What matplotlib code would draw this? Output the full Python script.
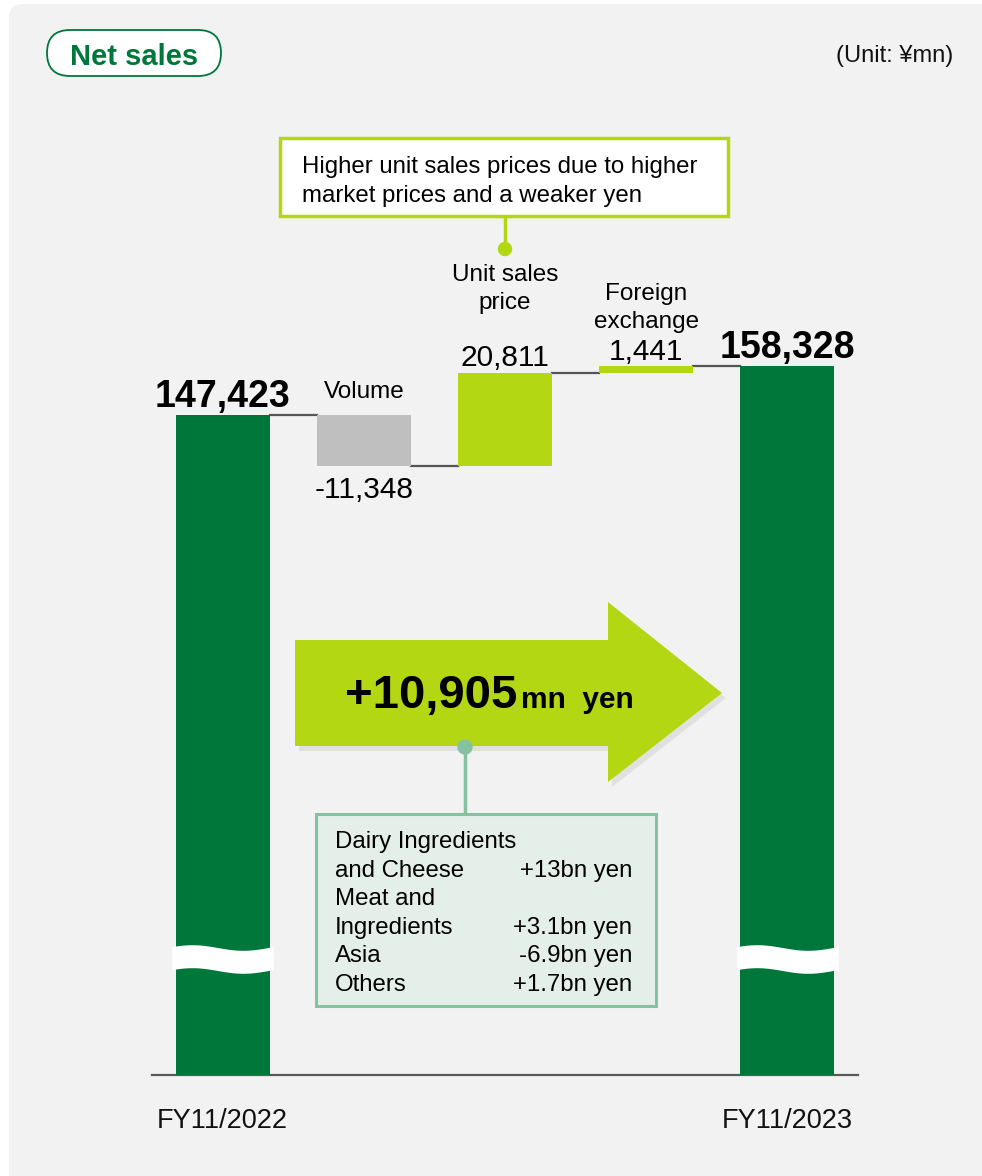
import numpy as np
import matplotlib
matplotlib.use("Agg")
import matplotlib.pyplot as plt
import matplotlib.transforms as mtransforms
from matplotlib.patches import FancyBboxPatch, Polygon, Circle, Rectangle
from matplotlib.lines import Line2D

plt.rcParams['font.family'] = ['Liberation Sans', 'DejaVu Sans']

# waterfall data (unit: ¥mn)
start_value = 147423
end_value = 158328
step_labels = ["Volume", "Unit sales\nprice", "Foreign\nexchange"]
step_values = [-11348, 20811, 1441]
period_labels = ["FY11/2022", "FY11/2023"]
total_change = "+10,905"

breakdown_names = ["Dairy Ingredients", "and Cheese", "Meat and", "Ingredients", "Asia", "Others"]
breakdown_values = ["", "+13bn yen", "", "+3.1bn yen", "-6.9bn yen", "+1.7bn yen"]
price_note = ["Higher unit sales prices due to higher", "market prices and a weaker yen"]

DARK_GREEN = "#00773a"
LIGHT_GREEN = "#b3d813"
GREY_BAR = "#bfbfbf"
PANEL = "#f2f2f2"
MINT_EDGE = "#86c2a0"
MINT_FILL = "#e5efe9"

W, H = 982, 1176
fig = plt.figure(figsize=(W / 100, H / 100), dpi=100, facecolor="white")
# pixel coordinates measured from the top-left corner
pix = mtransforms.Affine2D().scale(1 / W, -1 / H).translate(0, 1) + fig.transFigure

fig.add_artist(FancyBboxPatch((9, 4), 1100, 1300, boxstyle="round,pad=0,rounding_size=14",
                              transform=pix, fc=PANEL, ec="none", zorder=0))

# title pill
fig.add_artist(FancyBboxPatch((47, 30), 174, 46, boxstyle="round,pad=0,rounding_size=23",
                              transform=pix, fc="white", ec=DARK_GREEN, lw=1.3, zorder=1))
fig.text(134, 65, "Net sales", transform=pix, ha="center", va="baseline",
         fontsize=21, fontweight="bold", color=DARK_GREEN)
fig.text(953, 62, "(Unit: ¥mn)", transform=pix, ha="right", va="baseline",
         fontsize=17, color="#111111")

# chart axes: baseline at y=1075px, scale keeps zero at the baseline
base_px = 1075
bar_top_px = 415
ax = fig.add_axes([152 / W, (H - base_px) / H, 706 / W, base_px / H])
ax.set_facecolor("none")
ax.set_xlim(-0.5, 4.5)
ax.set_ylim(0, start_value * base_px / (base_px - bar_top_px))
for s in ["top", "right", "left"]:
    ax.spines[s].set_visible(False)
ax.spines["bottom"].set_color("#595959")
ax.spines["bottom"].set_linewidth(1.6)
ax.set_yticks([])
ax.set_xticks([0, 4], period_labels)
ax.tick_params(axis="x", length=0, pad=24, labelsize=19.5, labelcolor="#111111")

width = 0.667
running = [start_value]
for v in step_values:
    running.append(running[-1] + v)

# totals
ax.bar(0, start_value, width=width, color=DARK_GREEN, zorder=3)
ax.bar(4, end_value, width=width, color=DARK_GREEN, zorder=3)

# steps
step_colors = [GREY_BAR if v < 0 else LIGHT_GREEN for v in step_values]
for i, v in enumerate(step_values):
    lo = min(running[i], running[i + 1])
    ax.bar(i + 1, abs(v), bottom=lo, width=width, color=step_colors[i], zorder=3)

# connectors between bars
for i in range(4):
    y = running[i]
    ax.plot([i + width / 2, i + 1 - width / 2], [y, y], color="#555555", lw=1.6, zorder=2)

# value labels
for x, v in [(0, start_value), (4, end_value)]:
    ax.annotate(f"{v:,}", (x, v), xytext=(0, 6), textcoords="offset points",
                ha="center", va="baseline", fontsize=27, fontweight="bold")

# offset (pt) of the last line of each step name above the bar top
name_offsets = [12, 46, 27.5]
for i, v in enumerate(step_values):
    top = max(running[i], running[i + 1])
    bot = min(running[i], running[i + 1])
    if v < 0:
        ax.annotate(f"{v:,}", (i + 1, bot), xytext=(0, -23), textcoords="offset points",
                    ha="center", va="baseline", fontsize=21.5)
    else:
        ax.annotate(f"{v:,}", (i + 1, top), xytext=(0, 4.5), textcoords="offset points",
                    ha="center", va="baseline", fontsize=21.5)
    ax.annotate(step_labels[i], (i + 1, top), xytext=(0, name_offsets[i]),
                textcoords="offset points", ha="center", va="baseline", fontsize=17.5,
                linespacing=1.35)

# axis break marks on the total bars
kpx = ax.get_ylim()[1] / base_px
brk_center = (base_px - 959) * kpx
half_band = 11.5 * kpx
amp = 2.8 * kpx
for c in [0, 4]:
    t = np.linspace(0, 1, 120)
    xs = c - 0.36 + 0.72 * t
    wave = amp * np.sin(2 * np.pi * (t + 0.05))
    ax.fill_between(xs, brk_center + wave - half_band, brk_center + wave + half_band,
                    color="white", lw=0, zorder=4)

# big arrow with the total change
arrow_pts = [(295, 640), (608, 640), (608, 602), (722, 693), (608, 782), (608, 746), (295, 746)]
shadow = [(x + 4, y + 5) for x, y in arrow_pts]
fig.add_artist(Polygon(shadow, closed=True, transform=pix, fc="#000000", alpha=0.07, ec="none", zorder=2))
fig.add_artist(Polygon(arrow_pts, closed=True, transform=pix, fc=LIGHT_GREEN, ec="none", zorder=3))
fig.text(517, 708, total_change, transform=pix, ha="right", va="baseline",
         fontsize=34, fontweight="bold", zorder=5)
fig.text(521, 708, "mn  yen", transform=pix, ha="left", va="baseline",
         fontsize=21.5, fontweight="bold", zorder=5)

# note box for unit sales price
fig.add_artist(Line2D([505, 505], [216, 249], transform=pix, color=LIGHT_GREEN, lw=2.5, zorder=3))
fig.add_artist(Circle((505, 249), 6.5, transform=pix, color=LIGHT_GREEN, zorder=3))
fig.add_artist(Rectangle((280, 138), 448, 78, transform=pix, fc="white", ec=LIGHT_GREEN,
                         lw=2.5, zorder=3))
for j, line in enumerate(price_note):
    fig.text(302, 173 + 29 * j, line, transform=pix, ha="left", va="baseline",
             fontsize=17.3, zorder=5)

# segment breakdown box
fig.add_artist(Line2D([465, 465], [747, 814], transform=pix, color=MINT_EDGE, lw=2.5, zorder=4))
fig.add_artist(Circle((465, 747), 7, transform=pix, color=MINT_EDGE, zorder=4))
fig.add_artist(Rectangle((316, 814), 340, 192, transform=pix, fc=MINT_FILL, ec=MINT_EDGE,
                         lw=2.2, zorder=4))
for j, (name, val) in enumerate(zip(breakdown_names, breakdown_values)):
    yb = 848 + 28.6 * j
    fig.text(335, yb, name, transform=pix, ha="left", va="baseline", fontsize=17.3, zorder=5)
    if val:
        fig.text(632, yb, val, transform=pix, ha="right", va="baseline", fontsize=17.3, zorder=5)

fig.savefig("out.png", dpi=100, facecolor=fig.get_facecolor())
